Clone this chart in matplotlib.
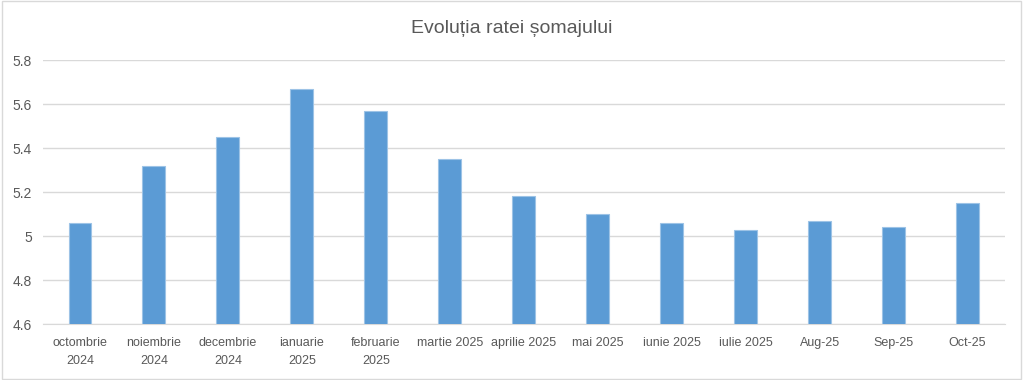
import matplotlib.pyplot as plt
from matplotlib.patches import Rectangle

plt.rcParams['font.family'] = ['Liberation Sans', 'DejaVu Sans']

labels = ['octombrie\n2024', 'noiembrie\n2024', 'decembrie\n2024', 'ianuarie\n2025',
          'februarie\n2025', 'martie 2025', 'aprilie 2025', 'mai 2025', 'iunie 2025',
          'iulie 2025', 'Aug-25', 'Sep-25', 'Oct-25']
rates = [5.06, 5.32, 5.45, 5.67, 5.57, 5.35, 5.18, 5.10, 5.06, 5.03, 5.07, 5.04, 5.15]
yticks = [4.6, 4.8, 5.0, 5.2, 5.4, 5.6, 5.8]
ytick_labels = ['4.6', '4.8', '5', '5.2', '5.4', '5.6', '5.8']

fig = plt.figure(figsize=(10.24, 3.8), dpi=100)
ax = fig.add_axes([0.042, 0.147, 0.939, 0.695])

x = range(len(rates))
ax.bar(x, rates, width=0.31, color='#5B9BD5', edgecolor='#9DC3E6', linewidth=0.8, zorder=3)

ax.set_ylim(4.6, 5.8)
ax.set_xlim(-0.5, len(rates) - 0.5)
ax.set_yticks(yticks)
ax.set_yticklabels(ytick_labels)
ax.set_xticks(list(x))
ax.set_xticklabels(labels)
ax.grid(axis='y', color='#D9D9D9', linewidth=1, zorder=0)
for s in ['top', 'right', 'left']:
    ax.spines[s].set_visible(False)
ax.spines['bottom'].set_color('#D9D9D9')
ax.tick_params(axis='both', length=0, colors='#595959')
ax.tick_params(axis='x', pad=9, labelsize=9)
ax.tick_params(axis='y', pad=8, labelsize=10)
for t in ax.get_xticklabels():
    t.set_linespacing(1.75)

fig.text(0.5, 0.925, 'Evoluția ratei șomajului', ha='center', va='center',
         fontsize=14, color='#595959')

fig.patches.append(Rectangle((0.002, 0.003), 0.995, 0.994, transform=fig.transFigure,
                             fill=False, edgecolor='#D9D9D9', linewidth=1))

fig.savefig('out.png', dpi=100)
